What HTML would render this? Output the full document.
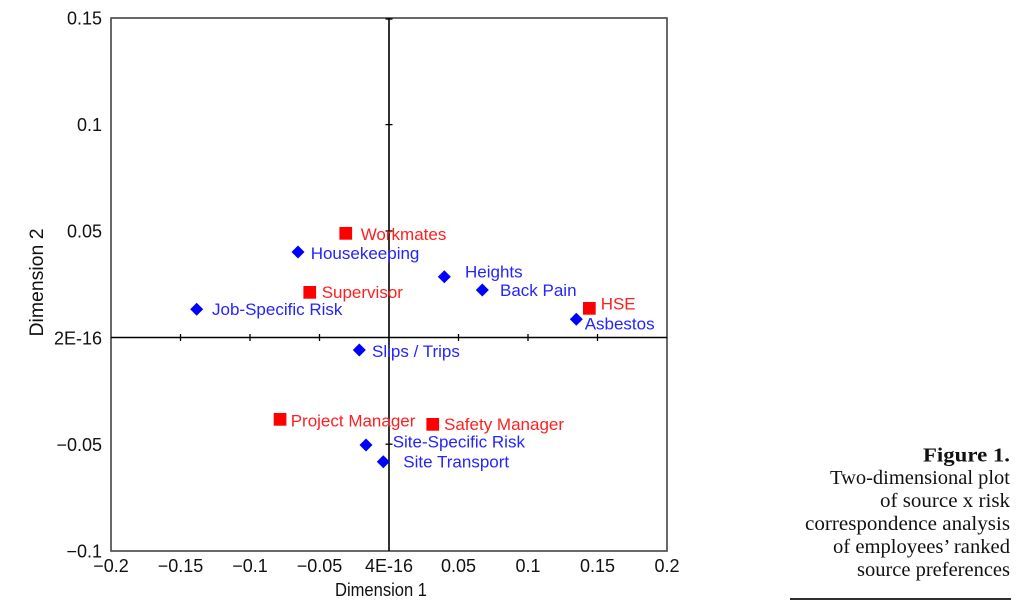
<!DOCTYPE html>
<html><head><meta charset="utf-8"><style>
html,body{margin:0;padding:0;background:#fff;}
svg{display:block;}
.t{font-family:"Liberation Sans",Arial,sans-serif;font-size:18px;fill:#111;}
.l{font-family:"Liberation Sans",Arial,sans-serif;font-size:17px;}
.r{fill:#ff1f1f;}
.b{fill:#2424ff;}
.c{font-family:"Liberation Serif","Times New Roman",serif;font-size:20px;fill:#111;}
</style></head><body>
<svg width="1023" height="604" viewBox="0 0 1023 604" xmlns="http://www.w3.org/2000/svg">
<!-- plot box -->
<rect x="111" y="18" width="556" height="533" fill="none" stroke="#444" stroke-width="1.6"/>
<!-- axes -->
<line x1="111" y1="337.5" x2="667" y2="337.5" stroke="#000" stroke-width="1.6"/>
<line x1="389" y1="18" x2="389" y2="551" stroke="#000" stroke-width="1.6"/>
<!-- x ticks -->
<g stroke="#000" stroke-width="1.3">
<line x1="180.5" y1="334" x2="180.5" y2="341"/>
<line x1="250" y1="334" x2="250" y2="341"/>
<line x1="319.5" y1="334" x2="319.5" y2="341"/>
<line x1="458.5" y1="334" x2="458.5" y2="341"/>
<line x1="528" y1="334" x2="528" y2="341"/>
<line x1="597.5" y1="334" x2="597.5" y2="341"/>
<!-- y ticks -->
<line x1="385.5" y1="124.6" x2="392.5" y2="124.6"/>
<line x1="385.5" y1="231" x2="392.5" y2="231"/>
<line x1="385.5" y1="444.2" x2="392.5" y2="444.2"/>
<line x1="385.5" y1="19" x2="392.5" y2="19"/>
</g>
<!-- y tick labels -->
<g class="t" text-anchor="end">
<text x="102" y="24.5">0.15</text>
<text x="102" y="131">0.1</text>
<text x="102" y="237.5">0.05</text>
<text x="102" y="344.5">2E-16</text>
<text x="102" y="451">−0.05</text>
<text x="102" y="557.5">−0.1</text>
</g>
<!-- x tick labels -->
<g class="t" text-anchor="middle">
<text x="111" y="572">−0.2</text>
<text x="180.5" y="572">−0.15</text>
<text x="250" y="572">−0.1</text>
<text x="319.5" y="572">−0.05</text>
<text x="389" y="572">4E-16</text>
<text x="458.5" y="572">0.05</text>
<text x="528" y="572">0.1</text>
<text x="597.5" y="572">0.15</text>
<text x="667" y="572">0.2</text>
</g>
<!-- axis titles -->
<text class="t" x="381" y="596" text-anchor="middle" style="font-size:18px" textLength="92" lengthAdjust="spacingAndGlyphs">Dimension 1</text>
<text class="t" transform="translate(43,282.5) rotate(-90)" text-anchor="middle" style="font-size:19px" textLength="108" lengthAdjust="spacingAndGlyphs">Dimension 2</text>

<!-- markers: squares (red) -->
<g fill="#ff0000">
<rect x="339.4" y="227" width="12.7" height="12.7"/>
<rect x="303.4" y="286" width="12.7" height="12.7"/>
<rect x="583" y="302" width="12.7" height="12.7"/>
<rect x="273.7" y="413" width="12.7" height="12.7"/>
<rect x="426.4" y="418" width="12.7" height="12.7"/>
</g>
<!-- markers: diamonds (blue) -->
<g fill="#0000ff">
<polygon points="298,245.5 304.5,252 298,258.5 291.5,252"/>
<polygon points="196.7,302.8 203.2,309.3 196.7,315.8 190.2,309.3"/>
<polygon points="359.3,343.5 365.8,350 359.3,356.5 352.8,350"/>
<polygon points="444.3,270.2 450.8,276.7 444.3,283.2 437.8,276.7"/>
<polygon points="482.3,283.5 488.8,290 482.3,296.5 475.8,290"/>
<polygon points="576.3,312.8 582.8,319.3 576.3,325.8 569.8,319.3"/>
<polygon points="366,438.5 372.5,445 366,451.5 359.5,445"/>
<polygon points="383.3,455.2 389.8,461.7 383.3,468.2 376.8,461.7"/>
</g>
<!-- labels -->
<g class="l">
<text class="r" x="360.7" y="240">Workmates</text>
<text class="b" x="310.7" y="259">Housekeeping</text>
<text class="r" x="321.7" y="298">Supervisor</text>
<text class="b" x="212" y="315">Job-Specific Risk</text>
<text class="b" x="372" y="357">Slips / Trips</text>
<text class="b" x="465" y="277.5">Heights</text>
<text class="b" x="500" y="296">Back Pain</text>
<text class="r" x="600.7" y="309.5">HSE</text>
<text class="b" x="584.7" y="329.5">Asbestos</text>
<text class="r" x="290.7" y="426.5">Project Manager</text>
<text class="r" x="444" y="430">Safety Manager</text>
<text class="b" x="392.7" y="447.5">Site-Specific Risk</text>
<text class="b" x="403.3" y="467.5">Site Transport</text>
</g>

<!-- caption -->
<g class="c" text-anchor="end">
<text x="1010" y="461.5" font-weight="bold" textLength="87" lengthAdjust="spacingAndGlyphs">Figure 1.</text>
<text x="1010" y="484" textLength="180" lengthAdjust="spacingAndGlyphs">Two-dimensional plot</text>
<text x="1010" y="507" textLength="130" lengthAdjust="spacingAndGlyphs">of source x risk</text>
<text x="1010" y="530" textLength="205" lengthAdjust="spacingAndGlyphs">correspondence analysis</text>
<text x="1010" y="553" textLength="177" lengthAdjust="spacingAndGlyphs">of employees’ ranked</text>
<text x="1010" y="576" textLength="153" lengthAdjust="spacingAndGlyphs">source preferences</text>
</g>
<line x1="790" y1="599" x2="1011" y2="599" stroke="#111" stroke-width="1.7"/>
</svg>
</body></html>
